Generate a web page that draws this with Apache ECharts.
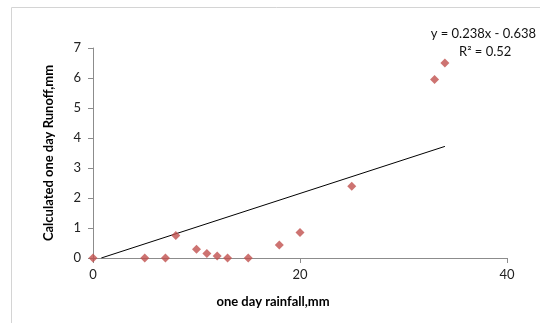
<!DOCTYPE html>
<html>
<head>
<meta charset="utf-8">
<script src="https://cdn.jsdelivr.net/npm/echarts@6/dist/echarts.min.js"></script>
<style>
  html, body { margin: 0; padding: 0; background: #fff; }
  #chart { width: 540px; height: 323px; }
</style>
</head>
<body>
<div id="chart"></div>
<script>
// one day rainfall (mm) vs calculated runoff (mm)
const rainfall = [0, 5, 7, 8, 10, 11, 12, 13, 15, 18, 20, 25, 33, 34]
const runoff = [0, 0, 0, 0.75, 0.29, 0.15, 0.07, 0, 0, 0.43, 0.85, 2.39, 5.95, 6.5]
// linear trendline as drawn
const trendX = [0.8, 34]
const trendY = [0, 3.72]
const xTicks = [0, 20, 40]
const yTicks = [0, 1, 2, 3, 4, 5, 6, 7]

const font = 'Lato, "Open Sans", sans-serif'
const axisColor = '#8c8c8c'

const dom = document.getElementById('chart')
const chart = echarts.init(dom)

let option = {
  animation: false,
  textStyle: { fontFamily: font },
  graphic: [
    {
      type: 'rect',
      shape: { x: 11.5, y: 7.5, width: 600, height: 400 },
      style: { fill: 'none', stroke: '#d4d4d4', lineWidth: 1 },
      silent: true,
    },
    {
      type: 'text',
      right: 4,
      top: 27,
      style: { text: 'y = 0.238x - 0.638', fill: '#111', font: '13px ' + font },
    },
    {
      type: 'text',
      left: 459,
      top: 45,
      style: { text: 'R² = 0.52', fill: '#111', font: '13px ' + font },
    },
  ],
  grid: {
    left: 93,
    right: 33,
    top: 48,
    bottom: 65,
  },
  xAxis: {
    type: 'value',
    min: xTicks[0],
    max: xTicks[xTicks.length - 1],
    interval: 20,
    name: 'one day rainfall,mm',
    nameLocation: 'middle',
    nameGap: 37,
    nameTextStyle: { fontWeight: 'bold', fontSize: 13, color: '#000', padding: [0, 54, 0, 0] },
    axisLine: { show: true, lineStyle: { color: axisColor } },
    axisTick: { show: true, length: 5, lineStyle: { color: axisColor } },
    axisLabel: { fontSize: 13, color: '#222', margin: 10 },
    splitLine: { show: false },
  },
  yAxis: {
    type: 'value',
    min: yTicks[0],
    max: yTicks[yTicks.length - 1],
    interval: 1,
    name: 'Calculated one day Runoff,mm',
    nameLocation: 'middle',
    nameGap: 38,
    nameTextStyle: { fontWeight: 'bold', fontSize: 13, color: '#000' },
    axisLine: { show: true, lineStyle: { color: axisColor } },
    axisTick: { show: true, length: 5, lineStyle: { color: axisColor } },
    axisLabel: { fontSize: 13, color: '#222', margin: 12 },
    splitLine: { show: false },
  },
  series: [
    {
      type: 'line',
      data: trendX.map((x, i) => [x, trendY[i]]),
      symbol: 'none',
      lineStyle: { color: '#000', width: 1 },
      silent: true,
      z: 1,
    },
    {
      type: 'scatter',
      data: rainfall.map((x, i) => [x, runoff[i]]),
      symbol: 'diamond',
      symbolSize: 9,
      itemStyle: { color: '#c0504d' },
      z: 3,
    },
  ],
}

chart.setOption(option)
window.addEventListener('resize', () => chart.resize())
</script>
</body>
</html>
